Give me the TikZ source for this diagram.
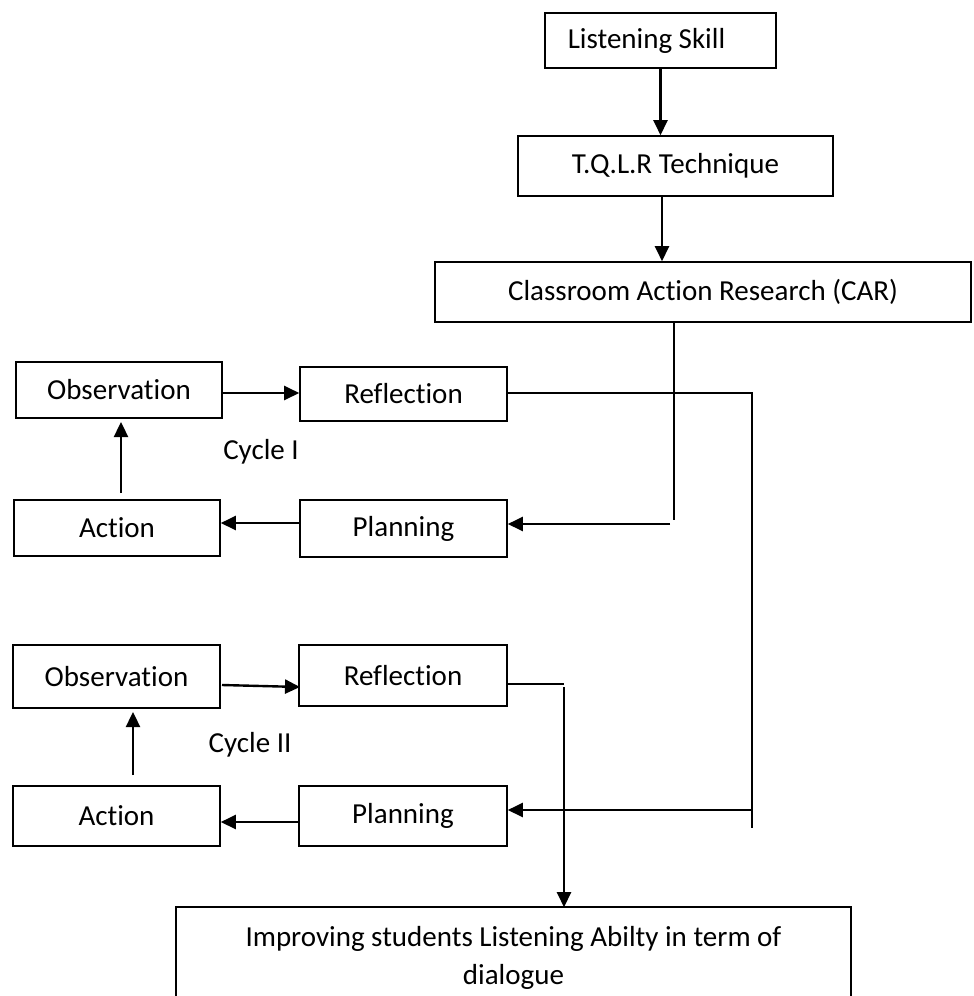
\documentclass[tikz,border=0pt]{standalone}
\usepackage{fontspec}
\setmainfont{Carlito}[Ligatures={NoCommon}]
\usetikzlibrary{arrows.meta}
\begin{document}
\begin{tikzpicture}[x=1pt,y=-1pt,
  box/.style={draw=black,line width=1.6pt,inner sep=0pt,align=center,font=\fontsize{29}{38}\selectfont},
  conn/.style={line width=2.4pt},
  arr/.style={conn,-{Triangle[length=15pt,width=14pt]}},
  lbl/.style={font=\fontsize{29}{34}\selectfont,inner sep=0pt}]
\useasboundingbox (0,0) rectangle (974,996);
% boxes
\node[box,minimum width=231pt,minimum height=55pt] (skill) at (660.5,40.5) {Listening Skill\hspace*{28pt}};
\node[box,minimum width=315pt,minimum height=60pt] (tqlr) at (675.5,166) {T.Q.L.R Technique};
\node[box,minimum width=536pt,minimum height=60pt] (car) at (703,292) {Classroom Action Research (CAR)};
\node[box,minimum width=206pt,minimum height=56pt] (obs1) at (119,390) {Observation};
\node[box,minimum width=207pt,minimum height=54pt] (ref1) at (403.5,394) {Reflection};
\node[box,minimum width=206pt,minimum height=56pt] (act1) at (117,528) {Action};
\node[box,minimum width=207pt,minimum height=57pt] (plan1) at (403.5,528.5) {Planning};
\node[box,minimum width=207pt,minimum height=63pt] (obs2) at (116.5,676.5) {Observation};
\node[box,minimum width=208pt,minimum height=61pt] (ref2) at (403,675.5) {Reflection};
\node[box,minimum width=207pt,minimum height=60pt] (act2) at (116.5,816) {Action};
\node[box,minimum width=208pt,minimum height=60pt] (plan2) at (403,816) {Planning};
\node[box,draw=none,minimum width=673pt,minimum height=100pt] (final) at (513.5,958) {Improving students Listening Abilty in term of\\dialogue};
\draw[line width=1.6pt] (final.south west) -- (final.north west) -- (final.north east) -- (final.south east);
% labels
\node[lbl] (cyc1) at (261,452) {Cycle I};
\node[lbl] (cyc2) at (250,745) {Cycle II};
% named free ends
\coordinate (carDownEnd) at (674,520);
\coordinate (carArrStart) at (670,524);
\coordinate (rA) at (752,393);
\coordinate (rB) at (752,828);
\coordinate (rC) at (752,810);
\coordinate (r2A) at (564,684);
\coordinate (r2B) at (564,687);
% connectors
\draw[arr] (skill.south) -- (skill.south |- tqlr.north);
\draw[arr] ([xshift=-13.5pt]tqlr.south) -- ([xshift=-13.5pt]tqlr.south |- car.north);
\draw[conn] (car.south -| carDownEnd) -- (carDownEnd);
\draw[arr] (carArrStart) -- (carArrStart -| plan1.east);
\draw[arr] (obs1.east |- rA) -- (ref1.west |- rA);
\draw[conn] (ref1.east |- rA) -- (rA) -- (rB);
\draw[arr] (rC) -- (rC -| plan2.east);
\draw[arr] (plan1.west |- 0,523) -- (act1.east |- 0,523);
\draw[arr] (121,493) -- (121,422);
\draw[arr] (222,685) -- (300,687);
\draw[arr] (plan2.west |- 0,822) -- (act2.east |- 0,822);
\draw[arr] (133,775) -- (133,712);
\draw[conn] (ref2.east |- r2A) -- (r2A);
\draw[arr] (r2B) -- (r2B |- final.north);
\end{tikzpicture}
\end{document}
